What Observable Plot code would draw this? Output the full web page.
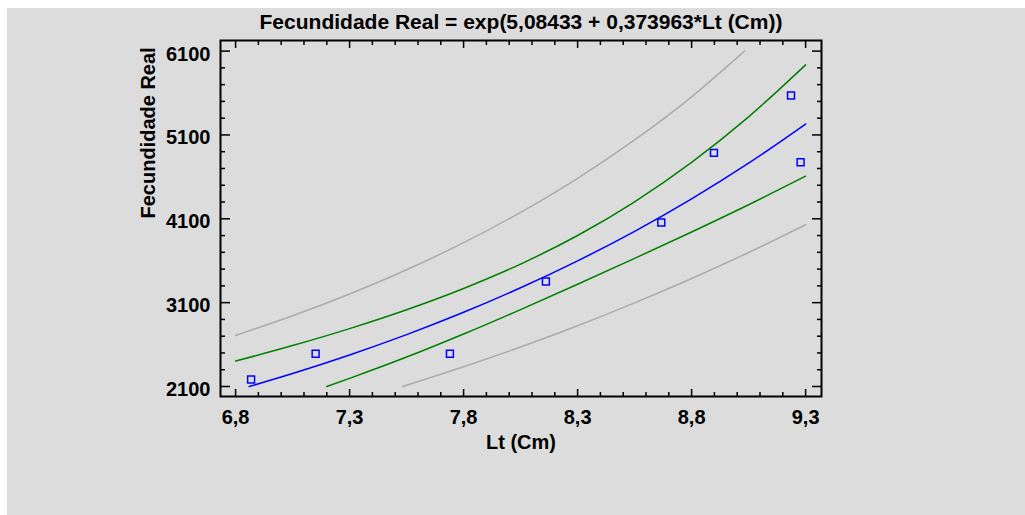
<!DOCTYPE html>
<html>
<head>
<meta charset="utf-8">
<script src="https://cdn.jsdelivr.net/npm/d3@7"></script>
<script src="https://cdn.jsdelivr.net/npm/@observablehq/plot@0.6"></script>
<style>
  html, body { margin: 0; padding: 0; background: #ffffff; }
  #panel {
    position: absolute; left: 7px; top: 8px; width: 1018px; height: 507px;
    background: #dcdcdc; overflow: hidden;
    font-family: "Liberation Sans", Arial, sans-serif;
  }
  #title {
    position: absolute; left: 0; top: 0; width: 1028px; height: 28px;
    line-height: 28px; text-align: center; font-weight: bold; font-size: 21px; color: #000;
    white-space: nowrap;
  }
  #chart { position: absolute; left: 0; top: 25px; }
</style>
</head>
<body>
<div id="panel">
  <div id="title"></div>
  <div id="chart"></div>
</div>
<script>
// Exponential fit: Fecundidade Real = exp(a + b * Lt)
const fitA = 5.08433;
const fitB = 0.373963;

// Observed samples
const ltObs  = [6.868, 7.151, 7.740, 8.161, 8.667, 8.898, 9.236, 9.278];
const fecObs = [2183, 2490, 2490, 3352, 4056, 4886, 5570, 4775];

// 95% limits for the mean (green) and for new observations (gray),
// kept inside the 2100–6100 axis range
const confUpperX = [6.8, 7.05, 7.3, 7.55, 7.8, 8.05, 8.3, 8.55, 8.8, 9.05, 9.3];
const confUpperY = [2403, 2588, 2790, 3015, 3269, 3560, 3901, 4303, 4773, 5316, 5936];
const confLowerX = [7.2, 7.3, 7.55, 7.8, 8.05, 8.3, 8.55, 8.8, 9.05, 9.3];
const confLowerY = [2100, 2197, 2451, 2726, 3017, 3319, 3628, 3943, 4268, 4608];
const predUpperX = [6.8, 7.05, 7.3, 7.55, 7.8, 8.05, 8.3, 8.55, 8.8, 9.032];
const predUpperY = [2709, 2943, 3203, 3492, 3815, 4177, 4583, 5040, 5555, 6100];
const predLowerX = [7.533, 7.8, 8.05, 8.3, 8.55, 8.8, 9.05, 9.3];
const predLowerY = [2100, 2335, 2571, 2825, 3097, 3388, 3698, 4029];

// Fitted curve sample positions (starts where the curve enters the axis range)
const fitX = [6.86, 7.05, 7.3, 7.55, 7.8, 8.05, 8.3, 8.55, 8.8, 9.05, 9.3];

// Axis ticks
const xMajor = [6.8, 7.3, 7.8, 8.3, 8.8, 9.3];
const xTickLabels = ["6,8", "7,3", "7,8", "8,3", "8,8", "9,3"];
const xMinor = [6.9, 7.0, 7.1, 7.2, 7.4, 7.5, 7.6, 7.7, 7.9, 8.0, 8.1, 8.2,
                8.4, 8.5, 8.6, 8.7, 8.9, 9.0, 9.1, 9.2];
const yMajor = [2100, 3100, 4100, 5100, 6100];
const yTickLabels = ["2100", "3100", "4100", "5100", "6100"];
const yMinor = [2300, 2500, 2700, 2900, 3300, 3500, 3700, 3900, 4300, 4500, 4700, 4900,
                5300, 5500, 5700, 5900];

const comma = v => String(v).replace(".", ",");
document.getElementById("title").textContent =
  `Fecundidade Real = exp(${comma(fitA)} + ${comma(fitB)}*Lt (Cm))`;

const fitY = fitX.map(x => Math.exp(fitA + fitB * x));

const blue = "#0000ff", green = "#008000", gray = "#ababab";
const lw = 1.5;

const tickStyle = {stroke: "#000", strokeWidth: 1.5, tickFormat: () => "", label: null};

const chart = Plot.plot({
  width: 1018,
  height: 482,
  marginLeft: 213,
  marginRight: 204,
  marginTop: 7,
  marginBottom: 119,
  style: {
    background: "transparent",
    fontFamily: "'Liberation Sans', Arial, sans-serif",
    fontSize: "20px",
    fontWeight: "bold",
    color: "#000"
  },
  x: {domain: [6.7338, 9.3697]},
  y: {domain: [1980.7, 6226.4]},
  marks: [
    Plot.frame({stroke: "#000", strokeWidth: 2}),
    // inward ticks on all four sides
    Plot.axisX(xMajor, {...tickStyle, anchor: "bottom", tickSize: -7}),
    Plot.axisX(xMinor, {...tickStyle, anchor: "bottom", tickSize: -4}),
    Plot.axisX(xMajor, {...tickStyle, anchor: "top", tickSize: -7}),
    Plot.axisX(xMinor, {...tickStyle, anchor: "top", tickSize: -4}),
    Plot.axisY(yMajor, {...tickStyle, anchor: "left", tickSize: -10}),
    Plot.axisY(yMinor, {...tickStyle, anchor: "left", tickSize: -5}),
    Plot.axisY(yMajor, {...tickStyle, anchor: "right", tickSize: -10}),
    Plot.axisY(yMinor, {...tickStyle, anchor: "right", tickSize: -5}),
    // tick labels
    Plot.axisX(xMajor, {anchor: "bottom", tickSize: 0, tickPadding: 13, label: null,
      tickFormat: d => xTickLabels[xMajor.indexOf(d)], fontSize: 20, fontWeight: "bold"}),
    Plot.axisY(yMajor, {anchor: "left", tickSize: 0, tickPadding: 10, label: null, dy: 3,
      tickFormat: d => yTickLabels[yMajor.indexOf(d)], fontSize: 20, fontWeight: "bold"}),
    // axis titles
    Plot.text(["Lt (Cm)"], {frameAnchor: "bottom", dy: 46, lineAnchor: "middle",
      fontSize: 20, fontWeight: "bold", fill: "#000"}),
    Plot.text(["Fecundidade Real"], {frameAnchor: "left", dx: -72, rotate: -90,
      lineAnchor: "middle", fontSize: 20, fontWeight: "bold", fill: "#000"}),
    // bands and fitted curve
    Plot.line(d3.zip(predUpperX, predUpperY), {stroke: gray, strokeWidth: lw, curve: "monotone-x"}),
    Plot.line(d3.zip(predLowerX, predLowerY), {stroke: gray, strokeWidth: lw, curve: "monotone-x"}),
    Plot.line(d3.zip(confUpperX, confUpperY), {stroke: green, strokeWidth: lw, curve: "monotone-x"}),
    Plot.line(d3.zip(confLowerX, confLowerY), {stroke: green, strokeWidth: lw, curve: "monotone-x"}),
    Plot.line(d3.zip(fitX, fitY), {stroke: blue, strokeWidth: lw, curve: "monotone-x"}),
    // observations
    Plot.dot(d3.zip(ltObs, fecObs), {symbol: "square", r: 3.9, fill: "none",
      stroke: blue, strokeWidth: 1.5})
  ]
});

document.getElementById("chart").appendChild(chart);
</script>
</body>
</html>
